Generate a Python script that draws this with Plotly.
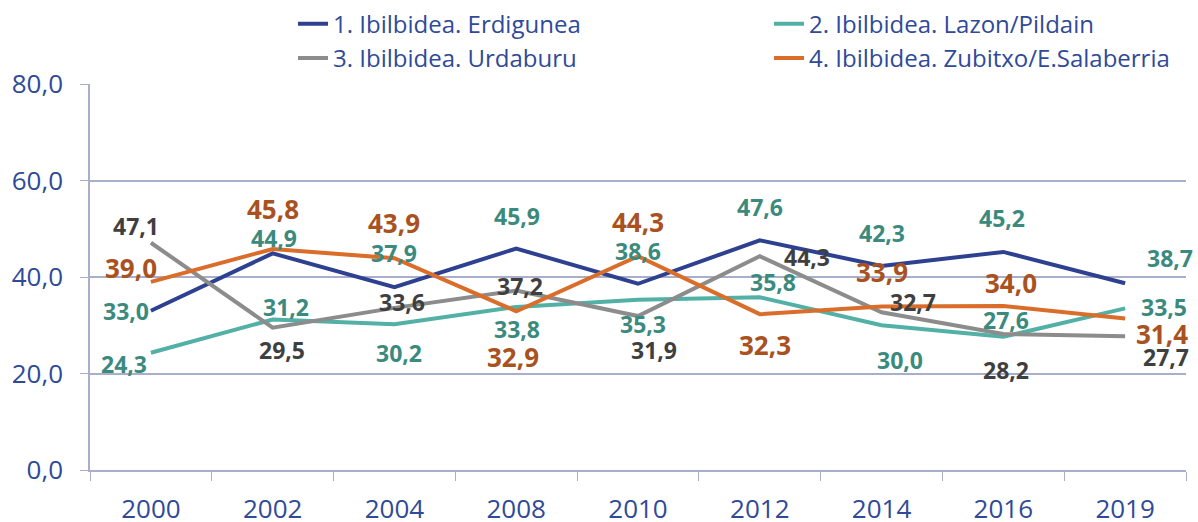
import plotly.graph_objects as go

years = ["2000", "2002", "2004", "2008", "2010", "2012", "2014", "2016", "2019"]
erdigunea = [33.0, 44.9, 37.9, 45.9, 38.6, 47.6, 42.3, 45.2, 38.7]
lazon = [24.3, 31.2, 30.2, 33.8, 35.3, 35.8, 30.0, 27.6, 33.5]
urdaburu = [47.1, 29.5, 33.6, 37.2, 31.9, 44.3, 32.7, 28.2, 27.7]
zubitxo = [39.0, 45.8, 43.9, 32.9, 44.3, 32.3, 33.9, 34.0, 31.4]
names = ["1. Ibilbidea. Erdigunea", "2. Ibilbidea. Lazon/Pildain",
         "3. Ibilbidea. Urdaburu", "4. Ibilbidea. Zubitxo/E.Salaberria"]
y_ticks = [0, 20, 40, 60, 80]

# styles
line_colors = ["#2E4191", "#52B0A6", "#8C8C8C", "#DA6D2A"]
label_colors = ["#3B8A7E", "#3B8A7E", "#3F3F3F", "#A9521F"]
label_sizes = [23, 23, 23, 26]
legend_ids = ["legend", "legend2", "legend", "legend2"]
# label offsets in px (dx right, dy down) relative to each point
offsets = [
    [(-25, 0), (1, -15), (0, -34), (1, -33), (0, -33), (0, -33), (0, -33), (-1, -34), (45, -25)],
    [(-27, 11), (13, -12), (5, 29), (1, 22), (5, 24), (13, -15), (18, 35), (3, -17), (39, -1)],
    [(-15, -17), (9, 22), (8, -6), (4, -5), (16, 34), (47, 1), (31, -10), (3, 36), (41, 21)],
    [(-20, -14), (0, -40), (0, -35), (-3, 46), (0, -34), (5, 31), (0, -34), (8, -23), (37, 15)],
]

series = [erdigunea, lazon, urdaburu, zubitxo]
FONT = "Open Sans"
TXT = "#2F4A98"
GRID = "#A9AECB"

fig = go.Figure()
for name, vals, col, lg in zip(names, series, line_colors, legend_ids):
    fig.add_trace(go.Scatter(x=list(range(len(years))), y=vals, mode="lines", name=name,
                             legend=lg, line=dict(color=col, width=4), hoverinfo="skip"))

annotations = []
for vals, col, size, offs in zip(series, label_colors, label_sizes, offsets):
    for i, (v, (dx, dy)) in enumerate(zip(vals, offs)):
        annotations.append(dict(
            x=i, y=v, xref="x", yref="y",
            text=f"<b>{v:.1f}</b>".replace(".", ","),
            showarrow=False, xanchor="center", yanchor="middle",
            xshift=dx, yshift=-dy,
            font=dict(family=FONT, size=size, color=col)))

legend_style = dict(orientation="v", xref="container", xanchor="left",
                    yref="paper", y=1.2135, yanchor="top",
                    font=dict(family=FONT, size=24, color=TXT),
                    bgcolor="rgba(0,0,0,0)", tracegroupgap=0)

fig.update_layout(
    width=1198, height=522,
    margin=dict(l=90, r=12, t=84, b=52, autoexpand=False),
    paper_bgcolor="white", plot_bgcolor="white",
    separators=",.",
    font=dict(family=FONT, color=TXT),
    showlegend=True,
    legend=dict(x=293 / 1198, **legend_style),
    legend2=dict(x=769 / 1198, **legend_style),
    annotations=annotations,
    xaxis=dict(type="category", tickmode="array", tickvals=list(range(len(years))),
               ticktext=years,
               tickson="boundaries", ticks="outside", ticklen=9, tickcolor=GRID,
               showline=True, linecolor=GRID, linewidth=2, showgrid=False,
               tickfont=dict(family=FONT, size=26, color=TXT), ticklabelstandoff=15,
               range=[-0.5, 8.5], fixedrange=True),
    yaxis=dict(range=[0, 80], tickvals=y_ticks, tickformat=".1f",
               ticks="outside", ticklen=8, tickcolor=GRID,
               showline=True, linecolor=GRID, linewidth=1.5,
               showgrid=True, gridcolor=GRID, gridwidth=1.5, zeroline=False,
               tickfont=dict(family=FONT, size=26, color=TXT), ticklabelstandoff=12,
               fixedrange=True),
)

fig.write_html("out.html", config={"displayModeBar": False},
               post_script="document.body.style.margin='0px';")
